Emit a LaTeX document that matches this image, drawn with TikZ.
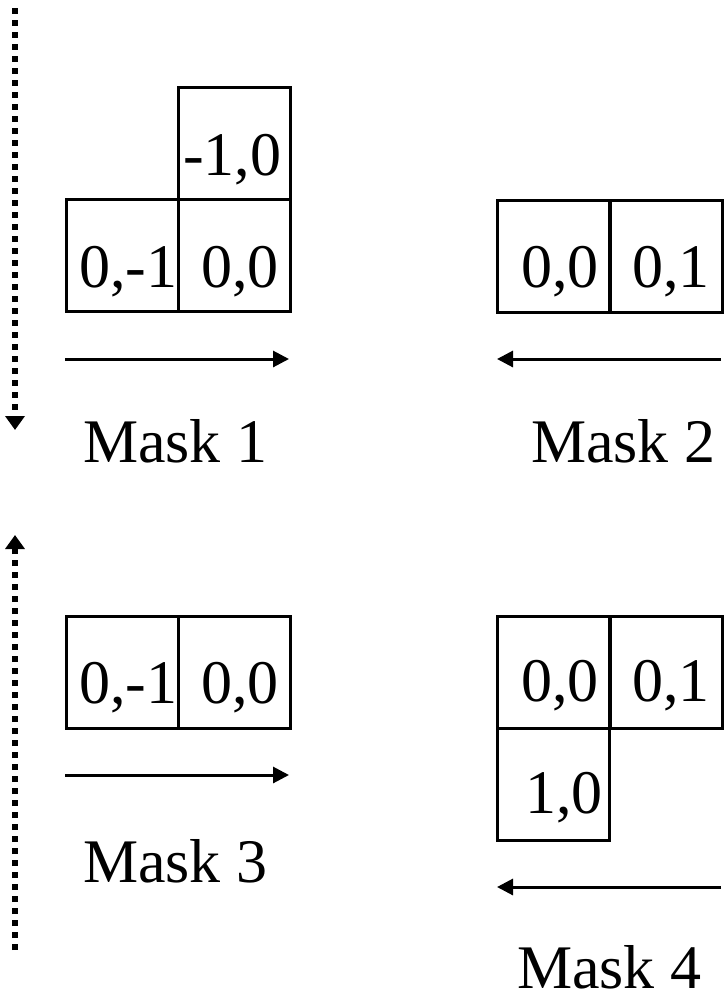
\documentclass[tikz,border=0pt]{standalone}
\usepackage{fontspec}
\setmainfont{Liberation Serif}
\usetikzlibrary{arrows.meta}
\tikzset{
  cell/.style={draw, line width=2.5pt, minimum width=112pt, minimum height=112pt, inner sep=0pt, anchor=north west},
  txt/.style={anchor=base west, inner sep=0pt, font=\fontsize{62}{70}\selectfont},
  lbl/.style={anchor=base west, inner sep=0pt, font=\fontsize{62}{70}\selectfont},
  dirarrow/.style={line width=3pt, -{Triangle[length=16pt,width=16pt]}},
  dotarrow/.style={line width=6pt, dash pattern=on 6pt off 6pt, -{Triangle[length=14pt,width=19pt]}}
}
\begin{document}
\begin{tikzpicture}[x=1pt,y=-1pt]
\useasboundingbox (0,0) rectangle (723,993);
% Mask 1
\node[cell] (m1t) at (177,86) {};
\node[cell] (m1l) at (65,198) {};
\node[cell] (m1r) at (177,198) {};
\node[txt] (t1t) at (183,175) {-1,0};
\node[txt] (t1l) at (79,287) {0,-1};
\node[txt] (t1r) at (201,287) {0,0};
\coordinate (a1s) at (65,359);
\coordinate (a1e) at (289,359);
\draw[dirarrow] (a1s) -- (a1e);
\node[lbl] (L1) at (83,462) {Mask 1};
% Mask 2
\node[cell] (m2l) at (496,199) {};
\node[cell] (m2r) at (609,199) {};
\node[txt] (t2l) at (521,287) {0,0};
\node[txt] (t2r) at (632,287) {0,1};
\coordinate (a2s) at (721,359);
\coordinate (a2e) at (497,359);
\draw[dirarrow] (a2s) -- (a2e);
\node[lbl] (L2) at (531,462) {Mask 2};
% Mask 3
\node[cell] (m3l) at (65,615) {};
\node[cell] (m3r) at (177,615) {};
\node[txt] (t3l) at (79,703) {0,-1};
\node[txt] (t3r) at (201,703) {0,0};
\coordinate (a3s) at (65,775);
\coordinate (a3e) at (289,775);
\draw[dirarrow] (a3s) -- (a3e);
\node[lbl] (L3) at (83,882) {Mask 3};
% Mask 4
\node[cell] (m4l) at (496,615) {};
\node[cell] (m4r) at (609,615) {};
\node[cell] (m4b) at (496,727) {};
\node[txt] (t4l) at (521,701) {0,0};
\node[txt] (t4r) at (632,701) {0,1};
\node[txt] (t4b) at (525,813) {1,0};
\coordinate (a4s) at (721,887);
\coordinate (a4e) at (497,887);
\draw[dirarrow] (a4s) -- (a4e);
\node[lbl] (L4) at (517,988) {Mask 4};
% dotted sweep arrows
\coordinate (d1s) at (15,8);
\coordinate (d1e) at (15,430);
\draw[dotarrow] (d1s) -- (d1e);
\coordinate (d2s) at (15,950);
\coordinate (d2e) at (15,535);
\draw[dotarrow] (d2s) -- (d2e);
\end{tikzpicture}
\end{document}
